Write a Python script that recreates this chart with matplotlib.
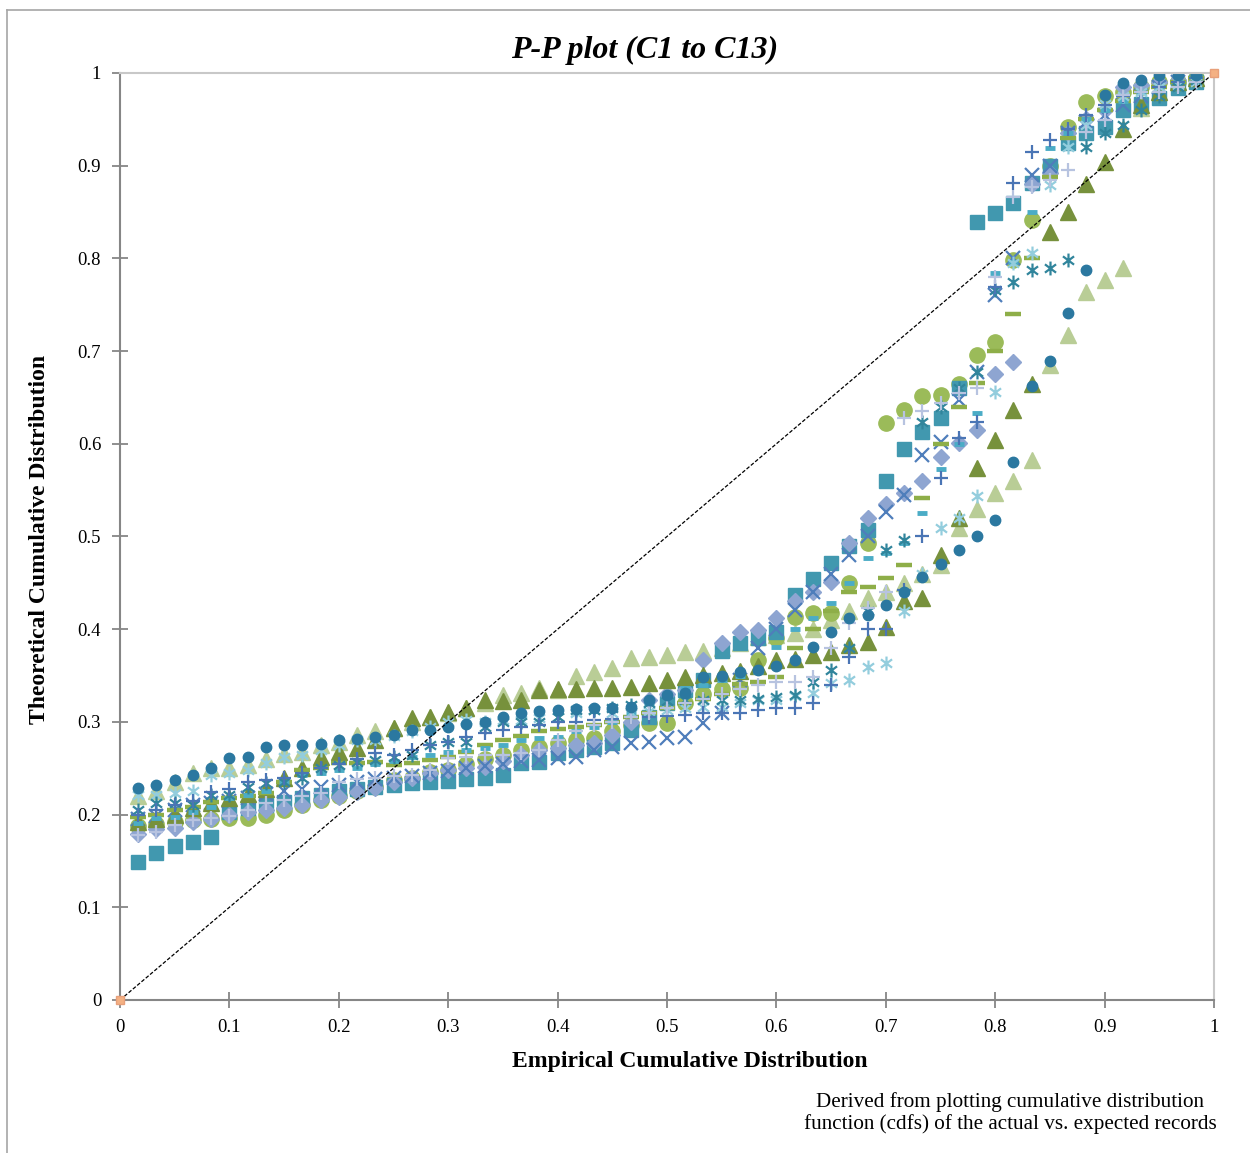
import numpy as np
import matplotlib
matplotlib.use('Agg')
import matplotlib.pyplot as plt
from matplotlib.path import Path
from matplotlib.lines import Line2D

#%% Dados (59 pontos por série, posições empíricas i/60)
n_obs = 60
ecdf = np.arange(1, n_obs) / n_obs

sq_teal = [.149, .159, .166, .170, .176, .203, .207, .210, .214, .218, .221, .225, .228, .230, .232,
           .234, .235, .236, .238, .240, .243, .256, .257, .266, .270, .273, .277, .291, .305, .320,
           .334, .345, .376, .385, .390, .397, .437, .454, .471, .490, .507, .560, .594, .613, .628,
           .660, .839, .849, .860, .881, .900, .924, .935, .942, .960, .967, .973, .984, .990]
diamond = [.179, .184, .185, .192, .195, .200, .203, .205, .207, .210, .216, .219, .224, .229, .235,
           .240, .245, .248, .250, .251, .258, .264, .270, .272, .275, .277, .286, .300, .324, .330,
           .334, .367, .385, .397, .399, .412, .430, .440, .451, .493, .520, .535, .547, .560, .586,
           .601, .615, .675, .688, .880, .892, .935, .950, .960, .985, .987, .990, .992, .995]
tri_dark = [.192, .195, .200, .207, .212, .218, .222, .228, .240, .250, .262, .268, .272, .280, .293,
            .304, .305, .311, .315, .324, .322, .324, .334, .335, .336, .337, .337, .338, .342, .345,
            .348, .351, .353, .355, .360, .367, .368, .372, .375, .383, .386, .402, .430, .434, .480,
            .520, .574, .604, .636, .664, .828, .850, .880, .904, .940, .965, .980, .990, .995]
x_blue = [.195, .198, .205, .210, .212, .215, .218, .222, .225, .228, .230, .232, .235, .238, .240,
          .242, .245, .247, .250, .252, .255, .258, .259, .261, .262, .270, .273, .277, .278, .283,
          .284, .299, .310, .345, .380, .400, .421, .440, .460, .480, .500, .526, .545, .588, .602,
          .647, .677, .760, .800, .890, .900, .935, .947, .955, .965, .975, .985, .990, .995]
ast_dark = [.205, .212, .212, .210, .221, .221, .230, .234, .235, .240, .250, .254, .257, .259, .262,
            .264, .275, .278, .278, .295, .300, .300, .300, .305, .313, .313, .315, .318, .320, .322,
            .324, .324, .324, .324, .325, .327, .329, .343, .356, .380, .420, .485, .496, .623, .640,
            .660, .677, .766, .775, .787, .790, .798, .920, .935, .944, .960, .975, .985, .992]
dot_dark = [.229, .232, .237, .243, .250, .261, .262, .273, .275, .275, .276, .280, .282, .284, .286,
            .291, .291, .295, .298, .300, .305, .310, .312, .313, .314, .315, .315, .316, .324, .329,
            .331, .348, .350, .354, .356, .360, .367, .381, .397, .412, .415, .426, .440, .456, .470,
            .485, .500, .518, .580, .662, .689, .741, .787, .976, .989, .992, .998, .998, .998]
plus_blue = [.200, .205, .210, .215, .224, .228, .235, .237, .240, .245, .250, .255, .260, .266, .264,
             .270, .275, .278, .284, .288, .291, .295, .297, .300, .300, .302, .303, .305, .305, .306,
             .307, .310, .310, .310, .313, .315, .315, .320, .340, .370, .400, .400, .442, .500, .563,
             .606, .623, .769, .881, .915, .928, .940, .955, .965, .975, .980, .985, .990, .995]
circ_green = [.188, .190, .192, .194, .195, .196, .196, .200, .205, .210, .216, .220, .225, .230, .237,
              .240, .246, .248, .255, .260, .264, .270, .273, .277, .280, .283, .290, .297, .299, .299,
              .320, .330, .335, .337, .367, .390, .413, .417, .417, .450, .493, .622, .636, .652, .653,
              .665, .696, .710, .798, .841, .900, .942, .969, .975, .980, .985, .990, .990, .995]
tri_light = [.220, .225, .235, .245, .250, .250, .253, .260, .265, .268, .275, .278, .286, .290, .293,
             .300, .305, .310, .315, .320, .329, .331, .337, .334, .350, .354, .358, .369, .370, .372,
             .375, .377, .380, .385, .392, .394, .396, .400, .410, .420, .434, .440, .450, .460, .469,
             .509, .530, .547, .560, .583, .685, .717, .764, .777, .790, .962, .998, 1.0, 1.0]
dash_olive = [.197, .200, .205, .208, .214, .218, .220, .223, .235, .248, .250, .256, .256, .257, .254,
              .256, .259, .262, .268, .275, .280, .285, .290, .292, .295, .297, .300, .305, .310, .315,
              .320, .325, .330, .341, .343, .348, .380, .400, .420, .440, .446, .455, .469, .541, .600,
              .640, .666, .700, .740, .800, .888, .930, .950, .960, .970, .980, .985, .990, .995]
dash_cyan = [.191, .196, .197, .203, .208, .218, .221, .225, .235, .243, .245, .248, .250, .255, .258,
             .262, .264, .268, .270, .272, .275, .280, .283, .284, .290, .295, .300, .310, .320, .330,
             .337, .340, .345, .350, .354, .381, .400, .412, .428, .450, .477, .482, .493, .525, .573,
             .600, .633, .784, .796, .850, .919, .935, .950, .960, .970, .980, .985, .990, .995]
plus_light = [.178, .181, .189, .194, .196, .198, .205, .212, .216, .220, .223, .235, .238, .240, .242,
              .243, .248, .261, .262, .264, .264, .266, .270, .280, .290, .297, .300, .305, .310, .315,
              .320, .325, .330, .335, .340, .343, .343, .348, .380, .407, .423, .440, .628, .635, .644,
              .655, .660, .780, .866, .877, .885, .895, .936, .949, .976, .980, .980, .985, .990]
ast_light = [.221, .221, .223, .225, .243, .245, .248, .256, .262, .264, .270, .275, .280, .280, .285,
             .290, .295, .300, .302, .300, .302, .302, .304, .305, .310, .313, .310, .310, .312, .313,
             .315, .316, .316, .320, .324, .324, .328, .331, .342, .345, .359, .363, .420, .460, .509,
             .520, .544, .656, .795, .806, .879, .920, .944, .967, .975, .980, .985, .987, .990]

ref_line = [0, 1]

#%% Marcador asterisco (estilo Excel)
asterisk = Path([(0, 1), (0, -1), (-0.8, 0.6), (0.8, -0.6), (-0.8, -0.6), (0.8, 0.6)],
                [Path.MOVETO, Path.LINETO] * 3)

plt.rcParams['font.family'] = ['Liberation Serif', 'DejaVu Serif']

fig = plt.figure(figsize=(12.5, 11.53), dpi=100)
ax = fig.add_axes([0.096, 0.1327, 0.8752, 0.804])

# ordem de desenho: as últimas ficam por cima
series = [
    (tri_light, dict(marker='^', ms=11, color='#B9CD96')),
    (circ_green, dict(marker='o', ms=11, color='#9BBB59')),
    (sq_teal, dict(marker='s', ms=10.5, color='#4198AF')),
    (diamond, dict(marker='D', ms=7.7, color='#8EA5D1')),
    (x_blue, dict(marker='x', ms=10, mew=1.6, color='#4F7EBB')),
    (tri_dark, dict(marker='^', ms=11, color='#77913C')),
    (dash_olive, dict(marker='_', ms=11, mew=3.2, color='#8EAE48')),
    (dash_cyan, dict(marker='_', ms=7, mew=3.5, color='#4BACC6')),
    (ast_light, dict(marker=asterisk, ms=10, mew=1.6, mfc='none', color='#93CDDD')),
    (ast_dark, dict(marker=asterisk, ms=10, mew=1.6, mfc='none', color='#31859C')),
    (plus_blue, dict(marker='+', ms=10, mew=1.6, color='#4A75B5')),
    (plus_light, dict(marker='+', ms=10, mew=1.6, color='#B7C3E0')),
    (dot_dark, dict(marker='o', ms=7.5, color='#2B78A0')),
]
for vals, kw in series:
    ax.plot(ecdf, vals, linestyle='none', mec=kw['color'], **kw)

ax.plot(ref_line, ref_line, color='black', lw=0.9, ls=(0, (3, 1.5)), zorder=5)
ax.plot(ref_line, ref_line, linestyle='none', marker='s', ms=6, color='#F4B183',
        mec='#E8A07A', clip_on=False, zorder=6)

ax.set_xlim(0, 1)
ax.set_ylim(0, 1)
ticks = np.round(np.arange(0, 1.01, 0.1), 1)
ax.set_xticks(ticks)
ax.set_yticks(ticks)
ax.set_xticklabels([f'{t:g}' for t in ticks])
ax.set_yticklabels([f'{t:g}' for t in ticks])
ax.tick_params(direction='inout', length=11, width=1.3, color='#868686', labelsize=13.5)
ax.tick_params(axis='x', pad=8)
ax.tick_params(axis='y', pad=8)
for s in ['left', 'bottom']:
    ax.spines[s].set_color('#868686')
    ax.spines[s].set_linewidth(1.5)
for s in ['top', 'right']:
    ax.spines[s].set_color('#C8C8C8')
    ax.spines[s].set_linewidth(1.5)

fig.text(645 / 1250, 1 - 50 / 1153, 'P-P plot (C1 to C13)', ha='center', va='center',
         fontsize=23, fontweight='bold', fontstyle='italic')
fig.text(690 / 1250, 1 - 1062 / 1153, 'Empirical Cumulative Distribution', ha='center',
         va='center', fontsize=17, fontweight='bold')
fig.text(40 / 1250, 1 - 539 / 1153, 'Theoretical Cumulative Distribution', ha='center',
         va='center', rotation=90, fontsize=17, fontweight='bold')
fig.text(1010 / 1250, 1 - 1113 / 1153,
         'Derived from plotting cumulative distribution\nfunction (cdfs) of the actual vs. expected records',
         ha='center', va='center', fontsize=15.2, linespacing=1.2)

# borda da área do gráfico
fig.add_artist(Line2D([7 / 1250, 7 / 1250], [0, 1 - 10 / 1153], color='#A6A6A6', lw=1.2))
fig.add_artist(Line2D([7 / 1250, 1], [1 - 10 / 1153, 1 - 10 / 1153], color='#A6A6A6', lw=1.2))

fig.savefig('out.png', dpi=100)
